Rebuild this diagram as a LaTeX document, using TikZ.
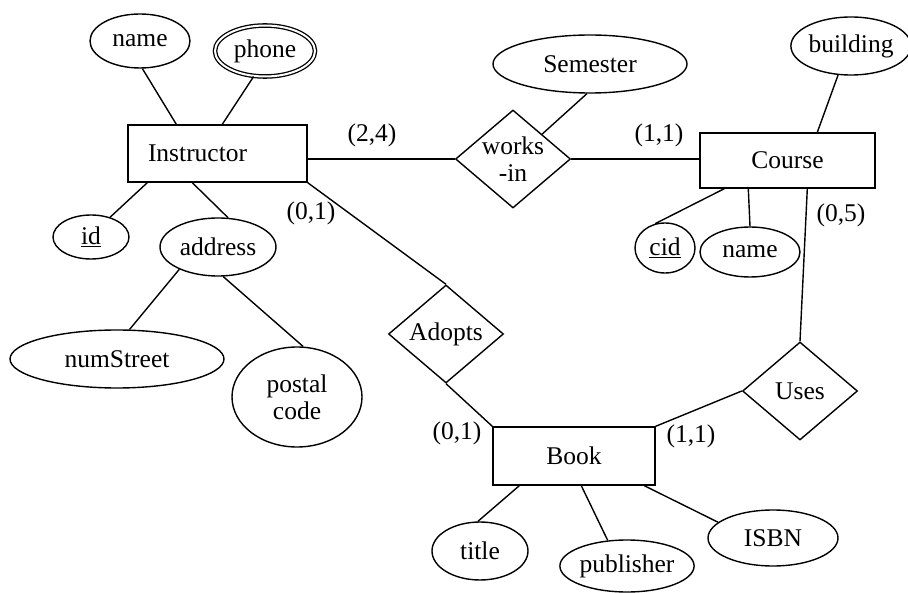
\documentclass[tikz,border=0pt]{standalone}
\usepackage{fontspec}
\setmainfont{Liberation Serif}
\usetikzlibrary{shapes.geometric,calc}
\tikzset{
  every node/.style={font=\fontsize{25.5}{27}\selectfont, inner sep=0pt},
  conn/.style={line width=1.4pt},
  entity/.style={draw, rectangle, line width=1.4pt},
  attr/.style={draw, ellipse, line width=1.4pt},
  multiattr/.style={draw, ellipse, line width=1.3pt, double, double distance=2pt},
  rel/.style={draw, diamond, line width=1.4pt, minimum width=115pt, minimum height=98pt, aspect=1.17},
  card/.style={}
}
\begin{document}
\begin{tikzpicture}[x=1pt,y=-1pt]
\useasboundingbox (0,0) rectangle (908,593);
% entities
\node[entity, minimum width=179pt, minimum height=57pt, text width=163pt, align=left] (ins) at (217.5,153.5) {\hspace*{12pt}Instructor};
\node[entity, minimum width=175pt, minimum height=55pt] (course) at (787.5,160.5) {Course};
\node[entity, minimum width=162pt, minimum height=58pt] (book) at (574,456) {Book};
% relationships
\node[rel, align=center] (wi) at (513,159) {works\\-in};
\node[rel] (adopts) at (446,334) {Adopts};
\node[rel] (uses) at (800,391) {Uses};
% attributes
\node[attr, minimum width=100pt, minimum height=54pt] (name) at (140,41) {name};
\node[multiattr, minimum width=100pt, minimum height=51pt] (phone) at (265,51) {phone};
\node[attr, minimum width=76pt, minimum height=44pt] (id) at (91,237) {\underline{id}};
\node[attr, minimum width=116pt, minimum height=58pt] (addr) at (218,247) {address};
\node[attr, minimum width=214pt, minimum height=58pt] (street) at (117,359) {numStreet};
\node[attr, minimum width=130pt, minimum height=100pt, align=center] (postal) at (297,397) {postal\\code};
\node[attr, minimum width=194pt, minimum height=58pt] (sem) at (590,64) {Semester};
\node[attr, minimum width=104pt, minimum height=58pt] (bldg) at (851,46) {building};
\node[attr, minimum width=60pt, minimum height=50pt] (cid) at (665,248) {\underline{cid}};
\node[attr, minimum width=100pt, minimum height=50pt] (cname) at (750,252) {name};
\node[attr, minimum width=96pt, minimum height=58pt] (title) at (480,551) {title};
\node[attr, minimum width=130pt, minimum height=52pt] (pub) at (627,566) {publisher};
\node[attr, minimum width=130pt, minimum height=56pt] (isbn) at (773,538) {ISBN};
% cardinalities
\node[card] (c24) at (372,135) {(2,4)};
\node[card] (c01a) at (311,213) {(0,1)};
\node[card] (c11a) at (659,135) {(1,1)};
\node[card] (c05) at (841,215) {(0,5)};
\node[card] (c01b) at (457,433) {(0,1)};
\node[card] (c11b) at (691,436) {(1,1)};
% connectors
\draw[conn] (name.-85.6) -- ($(ins.north west)+(49,0)$);
\draw[conn] (phone.-114) -- ($(ins.north west)+(95,0)$);
\draw[conn] (id.46.5) -- ($(ins.south west)+(20,0)$);
\draw[conn] (addr.71.6) -- ($(ins.south west)+(65,0)$);
\draw[conn] (addr.-150) -- (street.67.8);
\draw[conn] (addr.-80.5) -- (postal.83);
\draw[conn] (ins.east |- wi.west) -- (wi.west);
\draw[conn] (wi.east) -- (course.west |- wi.east);
\draw[conn] (sem.-96) -- (wi.north east);
\draw[conn] (ins.south east) -- (adopts.north);
\draw[conn] (bldg.-114) -- ($(course.north west)+(118,0)$);
\draw[conn] (cid.112) -- ($(course.south west)+(25,0)$);
\draw[conn] (cname.90) -- ($(course.south west)+(49,0)$);
\draw[conn] ($(course.south west)+(108,0)$) -- (uses.north);
\draw[conn] (adopts.south) -- (book.north west);
\draw[conn] (uses.west) -- (book.north east);
\draw[conn] (title.94) -- ($(book.south west)+(27,0)$);
\draw[conn] (pub.127.6) -- ($(book.south west)+(89,0)$);
\draw[conn] (isbn.164.5) -- ($(book.south west)+(152,0)$);
\end{tikzpicture}
\end{document}
